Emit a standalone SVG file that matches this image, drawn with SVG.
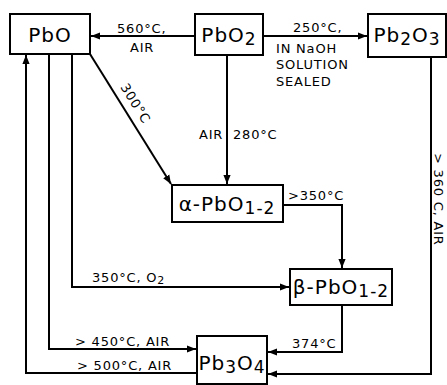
<svg xmlns="http://www.w3.org/2000/svg" width="447" height="385" viewBox="0 0 447 385">
<defs>
<marker id="ah" viewBox="0 0 10 10" refX="10" refY="5" markerWidth="9" markerHeight="9" markerUnits="userSpaceOnUse" orient="auto">
<path d="M0,1 L10,5 L0,9 Z" fill="#000"/>
</marker>
<style>
.box{fill:#fff;stroke:#000;stroke-width:2}
.c{fill:none;stroke:#000;stroke-width:2;marker-end:url(#ah)}
.n{font-family:"DejaVu Sans","Liberation Sans",sans-serif;font-size:20px;fill:#000;text-anchor:middle;letter-spacing:1px}
.l{font-family:"DejaVu Sans","Liberation Sans",sans-serif;font-size:13px;fill:#000;letter-spacing:0.8px}
</style>
</defs>
<rect width="447" height="385" fill="#fff"/>
<g id="connectors">
<path class="c" d="M195,36 H91"/>
<path class="c" d="M263,36 H367"/>
<path class="c" d="M227,55 V184"/>
<path class="c" d="M90,54 L171,184"/>
<path class="c" d="M283,205 H342 V268"/>
<path class="c" d="M72,54 V287 H289"/>
<path class="c" d="M49,54 V349 H196"/>
<path class="c" d="M197,373 H26 V55"/>
<path class="c" d="M342,305 V352 H268"/>
<path class="c" d="M431,57 V374 H268"/>
</g>
<g id="labels">
<text class="l" x="117" y="33">560°C,</text>
<text class="l" x="130" y="52">AIR</text>
<text class="l" x="293" y="32">250°C,</text>
<text class="l" x="276" y="53">IN  NaOH</text>
<text class="l" x="276" y="69">SOLUTION</text>
<text class="l" x="276" y="86">SEALED</text>
<text class="l" x="199" y="139">AIR</text>
<text class="l" x="233" y="139">280°C</text>
<text class="l" x="288" y="200">&gt;350°C</text>
<text class="l" x="92" y="282">350°C, O<tspan font-size="11" dy="2">2</tspan></text>
<text class="l" x="75" y="346">&gt; 450°C, AIR</text>
<text class="l" x="77" y="370">&gt; 500°C, AIR</text>
<text class="l" x="292" y="348">374°C</text>
<text class="l" transform="translate(120,87) rotate(58)">300°C</text>
<text class="l" transform="translate(434,153) rotate(90)" letter-spacing="1.2">&gt; 360 C, AIR</text>
</g>
<g id="PbO"><rect class="box" x="10" y="14" width="80" height="40"/><text class="n" x="50" y="42">PbO</text></g>
<g id="PbO2"><rect class="box" x="195" y="14" width="68" height="41"/><text class="n" x="229" y="42">PbO<tspan font-size="17" dy="3">2</tspan></text></g>
<g id="Pb2O3"><rect class="box" x="368" y="14" width="78" height="43"/><text class="n" x="407" y="42">Pb<tspan font-size="17" dy="3">2</tspan><tspan dy="-3">O</tspan><tspan font-size="17" dy="3">3</tspan></text></g>
<g id="alpha"><rect class="box" x="172" y="185" width="111" height="37"/><text class="n" x="227" y="211">α-PbO<tspan font-size="17" dy="3">1-2</tspan></text></g>
<g id="beta"><rect class="box" x="290" y="269" width="102" height="36"/><text class="n" x="341" y="294">β-PbO<tspan font-size="17" dy="3">1-2</tspan></text></g>
<g id="Pb3O4"><rect class="box" x="197" y="336" width="70" height="48"/><text class="n" x="232" y="370">Pb<tspan font-size="17" dy="3">3</tspan><tspan dy="-3">O</tspan><tspan font-size="17" dy="3">4</tspan></text></g>
</svg>
